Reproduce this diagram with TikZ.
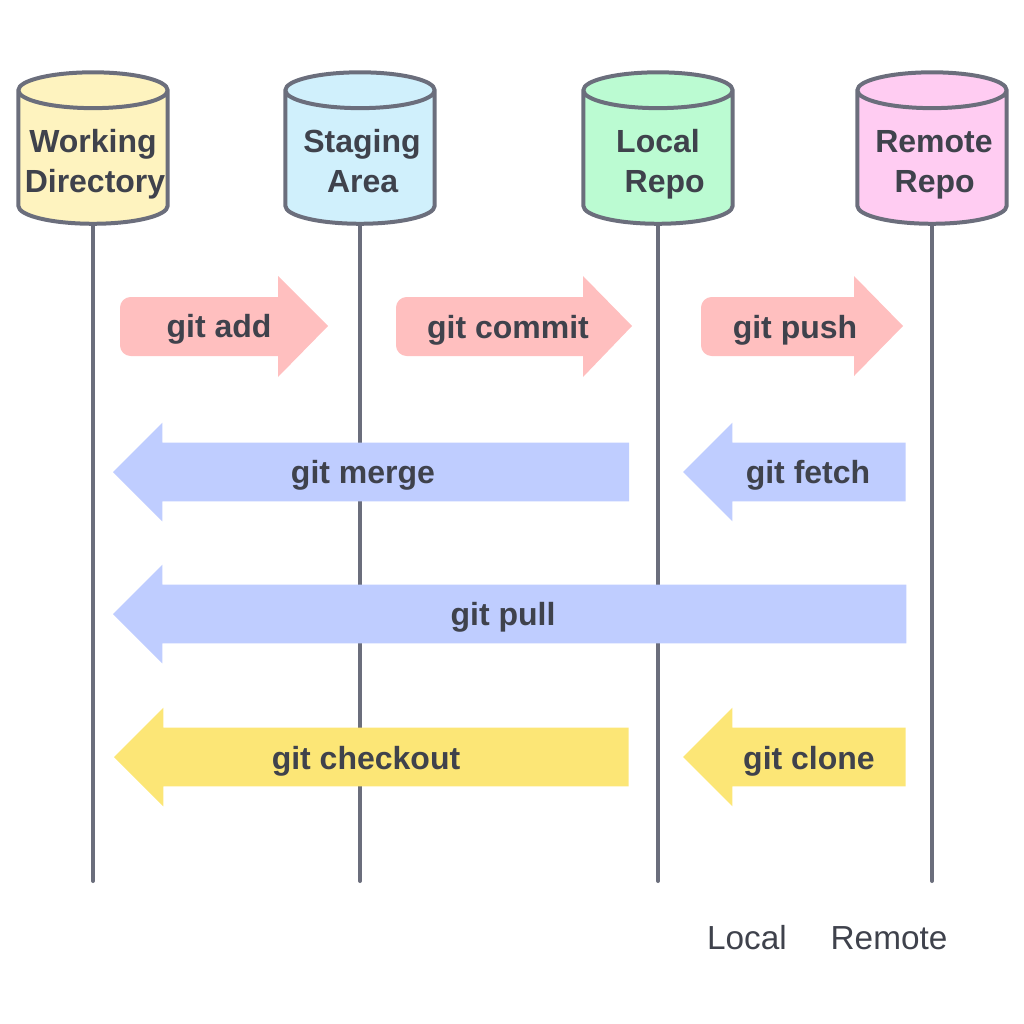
\documentclass[tikz,border=0pt]{standalone}
\usepackage{fontspec}
\setmainfont{Liberation Sans}
\usetikzlibrary{shapes.geometric,shapes.arrows}
\definecolor{linegray}{HTML}{6B6E7C}
\definecolor{textgray}{HTML}{3F424C}
\definecolor{addred}{HTML}{FFBFBF}
\definecolor{mergeblue}{HTML}{BFCDFF}
\definecolor{cloneyellow}{HTML}{FCE676}
\definecolor{workfill}{HTML}{FEF3BF}
\definecolor{stagefill}{HTML}{D0F0FC}
\definecolor{localfill}{HTML}{BBFBD2}
\definecolor{remotefill}{HTML}{FFCCF2}
\begin{document}
\begin{tikzpicture}[
    x=.75pt,y=-.75pt,
    store/.style={
        shape=cylinder,
        shape border rotate=90,
        cylinder uses custom fill,
        cylinder body fill=#1,
        cylinder end fill=#1,
        aspect=.24,
        draw=linegray,
        line width=3pt,
        align=center,
        inner sep=0pt,
        text width=112pt,
        text height=17pt,
        text depth=26pt,
        minimum width=112pt,
        minimum height=113.6pt,
        text=textgray,
        font=\fontsize{24}{30}\selectfont\bfseries,
    },
    life/.style={draw=linegray,line width=3pt,line cap=round},
    cmdtail/.style={fill=addred},
    cmdback/.style={
        shape=single arrow,
        anchor=tip,
        inner sep=0pt,
        outer sep=0pt,
        shape border rotate=180,
        single arrow head extend=15pt,
        text height=43.5pt,
        text depth=0pt,
        text width=0pt,
    },
    cmd/.style={
        text=textgray,
        font=\fontsize{24}{28}\selectfont\bfseries,
    },
    side/.style={
        text=textgray,
        font=\fontsize{25}{30}\selectfont,
    },
]
    \useasboundingbox (0,0) rectangle (1024,1024);
    % ~~~ the four stores ~~~~~~~~~~~~
    \node[store=workfill] (work) at (93,158) {Working\\\hspace*{3pt}Directory};
    \node[store=stagefill] (stage) at (360,158) {\hspace*{3pt}Staging\\\hspace*{4pt}Area};
    \node[store=localfill] (local) at (658,158) {Local\\\hspace*{10pt}Repo};
    \node[store=remotefill] (remote) at (932,158) {\hspace*{3pt}Remote\\\hspace*{4pt}Repo};
    % ~~~ lifelines ~~~~~~~~~~~~
    \coordinate (workend) at (93,881);
    \coordinate (stageend) at (360,881);
    \coordinate (localend) at (658,881);
    \coordinate (remoteend) at (932,881);
    \draw[life] (work.south) -- (workend);
    \draw[life] (stage.south) -- (stageend);
    \draw[life] (local.south) -- (localend);
    \draw[life] (remote.south) -- (remoteend);
    % ~~~ forward commands ~~~~~~~~~~~~
    \fill[cmdtail] (278,276) -- (328,326) -- (278,377) -- (278,356) [rounded corners=8pt] -- (120,356) -- (120,297) [sharp corners] -- (278,297) -- cycle;
    \fill[cmdtail] (583,276) -- (632,326) -- (583,377) -- (583,356) [rounded corners=8pt] -- (396,356) -- (396,297) [sharp corners] -- (583,297) -- cycle;
    \fill[cmdtail] (854,276) -- (903,326) -- (854,376) -- (854,356) [rounded corners=8pt] -- (701,356) -- (701,297) [sharp corners] -- (854,297) -- cycle;
    % ~~~ backward commands ~~~~~~~~~~~~
    \node[cmdback,fill=mergeblue,minimum height=387pt] (mergearrow) at (113,472) {};
    \node[cmdback,fill=mergeblue,minimum height=167pt] (fetcharrow) at (683,472) {};
    \node[cmdback,fill=mergeblue,minimum height=595pt] (pullarrow) at (113,614) {};
    \node[cmdback,fill=cloneyellow,minimum height=386pt] (checkoutarrow) at (114,757) {};
    \node[cmdback,fill=cloneyellow,minimum height=167pt] (clonearrow) at (683,757) {};
    % ~~~ labels ~~~~~~~~~~~~
    \node[cmd] (add) at (219,329) {git add};
    \node[cmd] (commit) at (508,330) {git commit};
    \node[cmd] (push) at (795,330) {git push};
    \node[cmd] (merge) at (363,475) {git merge};
    \node[cmd] (fetch) at (808,475) {git fetch};
    \node[cmd] (pull) at (503,617) {git pull};
    \node[cmd] (checkout) at (366,761) {git checkout};
    \node[cmd] (clone) at (809,761) {git clone};
    \node[side] (sidelocal) at (747,938) {Local};
    \node[side] (sideremote) at (889,938) {Remote};
\end{tikzpicture}
\end{document}
